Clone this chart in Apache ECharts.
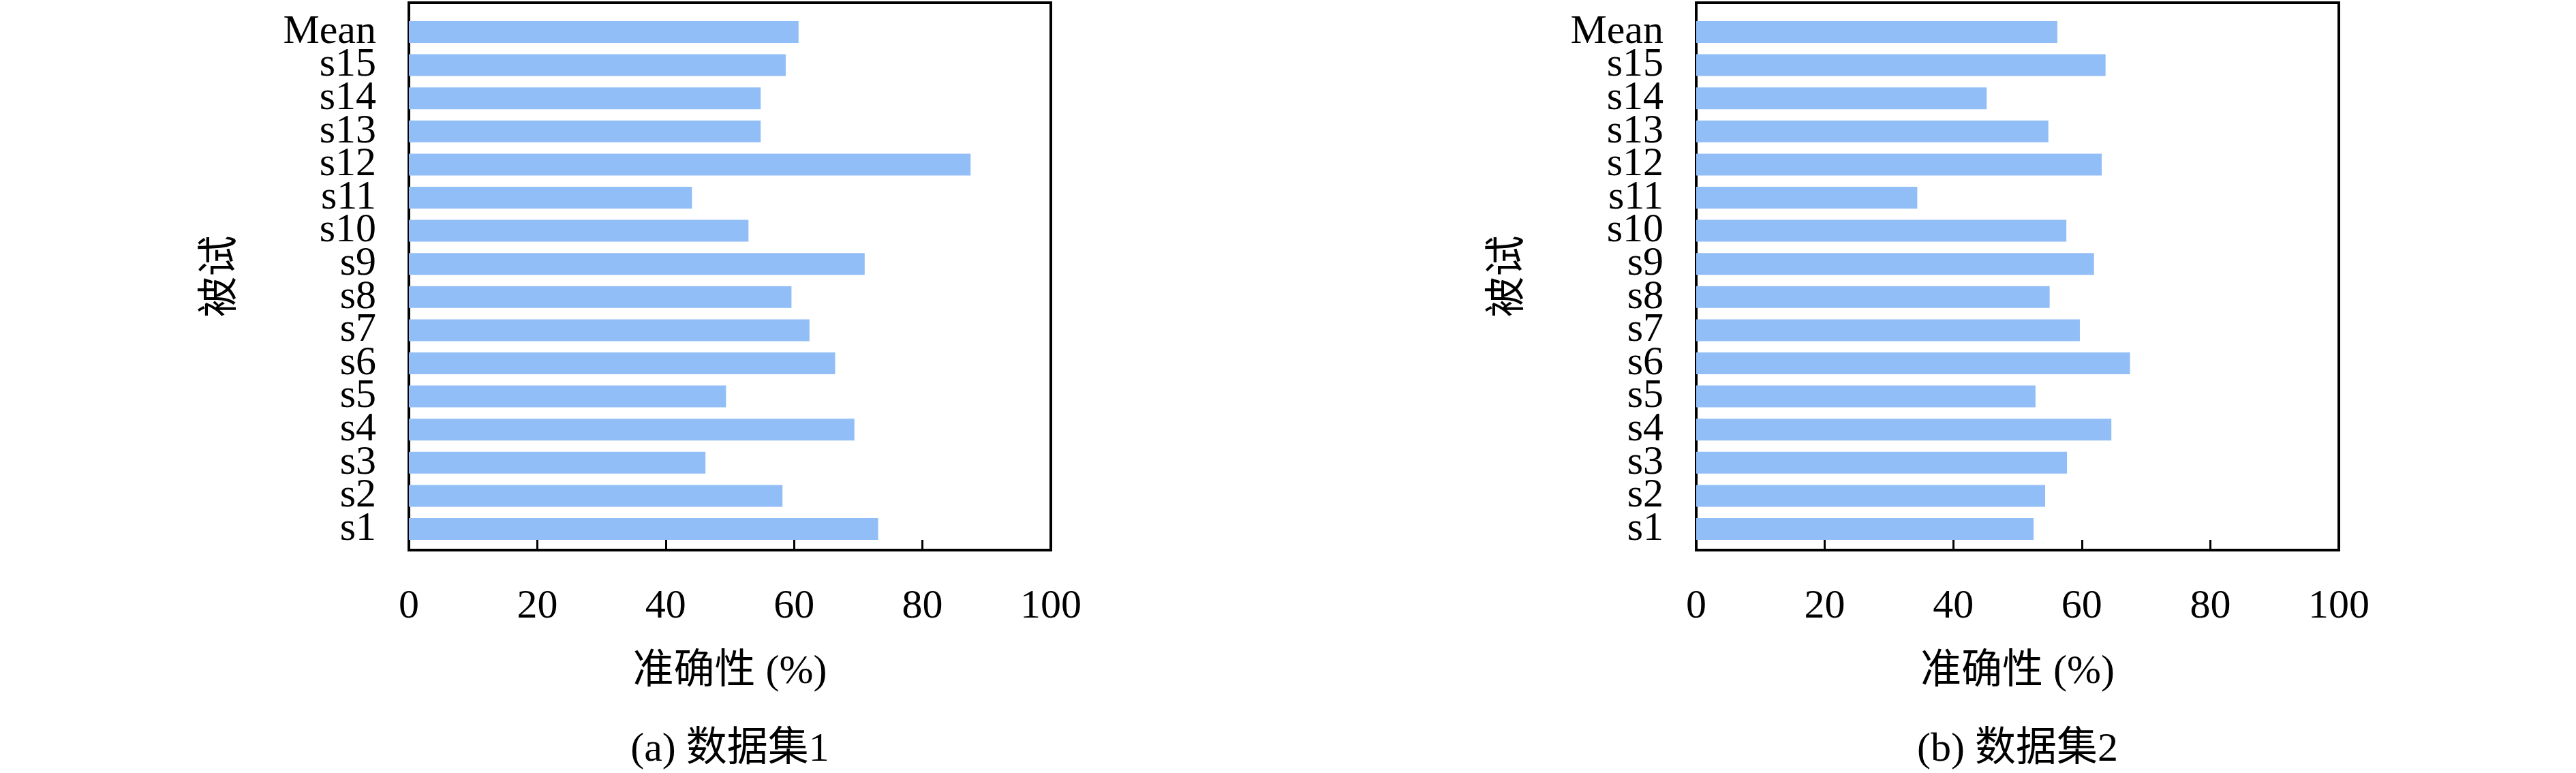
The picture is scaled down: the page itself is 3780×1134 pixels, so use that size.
<!DOCTYPE html>
<html>
<head>
<meta charset="utf-8">
<script src="https://cdn.jsdelivr.net/npm/echarts@6/dist/echarts.min.js"></script>
<style>
html,body{margin:0;padding:0;background:#fff;}
#chart{width:3780px;height:1134px;}
</style>
</head>
<body>
<div id="chart"></div>
<script>
// ---- data ----
const categories = ['s1','s2','s3','s4','s5','s6','s7','s8','s9','s10','s11','s12','s13','s14','s15','Mean'];
const dataset1 = [73.1, 58.2, 46.2, 69.4, 49.4, 66.4, 62.4, 59.6, 71.0, 52.9, 44.1, 87.5, 54.8, 54.8, 58.7, 60.7];
const dataset2 = [52.5, 54.3, 57.7, 64.6, 52.8, 67.5, 59.7, 55.0, 61.9, 57.6, 34.4, 63.1, 54.8, 45.2, 63.7, 56.2];
const xTicks = [0, 20, 40, 60, 80, 100];
const xTitle = '准确性 (%)';
const yTitle = '被试';
const captions = ['(a) 数据集1', '(b) 数据集2'];

// ---- layout / style ----
const FONT = "'Liberation Serif', 'Noto Sans CJK SC', serif";
const BAR_COLOR = '#92bef7';
const panels = [
  {left: 600, width: 942, data: dataset1, caption: captions[0]},
  {left: 2489, width: 943, data: dataset2, caption: captions[1]}
];
const frameTop = 4, frameH = 803;
const barTop = 22.7, barH = 777.6;

const chart = echarts.init(document.getElementById('chart'), null, {renderer: 'canvas'});

const grid = [], xAxis = [], yAxis = [], series = [], graphic = [];
panels.forEach((p, i) => {
  const gFrame = grid.length;
  grid.push({left: p.left, top: frameTop, width: p.width, height: frameH, show: true,
    borderColor: '#000', borderWidth: 4, backgroundColor: 'transparent', containLabel: false});
  const gBar = grid.length;
  grid.push({left: p.left, top: barTop, width: p.width, height: barH, show: false, containLabel: false});

  // frame axes
  xAxis.push({gridIndex: gFrame, type: 'value', min: xTicks[0], max: xTicks[xTicks.length - 1],
    interval: xTicks[1] - xTicks[0],
    axisLine: {show: false}, splitLine: {show: false},
    axisTick: {show: true, inside: true, length: 15, lineStyle: {color: '#000', width: 3}},
    axisLabel: {show: true, margin: 53, fontSize: 60, fontFamily: FONT, color: '#000',
      showMinLabel: true, showMaxLabel: true},
    name: xTitle, nameLocation: 'middle', nameGap: 149,
    nameTextStyle: {fontSize: 60, fontFamily: FONT, color: '#000'}
  });
  yAxis.push({gridIndex: gFrame, type: 'value', min: 0, max: 1,
    axisLine: {show: false}, axisTick: {show: false}, axisLabel: {show: false}, splitLine: {show: false},
    name: yTitle, nameLocation: 'middle', nameGap: 245,
    nameTextStyle: {fontSize: 60, fontFamily: FONT, color: '#000'}
  });

  // bar axes
  const xb = xAxis.length;
  xAxis.push({gridIndex: gBar, type: 'value', min: xTicks[0], max: xTicks[xTicks.length - 1],
    show: false});
  const yb = yAxis.length;
  yAxis.push({gridIndex: gBar, type: 'category', data: categories, boundaryGap: true,
    axisLine: {show: false}, splitLine: {show: false},
    axisTick: {show: true, inside: true, alignWithLabel: true, length: 14, lineStyle: {color: '#000', width: 3}},
    axisLabel: {show: true, margin: 48, fontSize: 60, fontFamily: FONT, color: '#000', interval: 0}
  });

  series.push({type: 'bar', xAxisIndex: xb, yAxisIndex: yb, data: p.data, barWidth: 32,
    itemStyle: {color: BAR_COLOR}, silent: true, animation: false});

  graphic.push({type: 'text', x: p.left + p.width / 2, y: 1100,
    style: {text: p.caption, font: '60px ' + FONT, fill: '#000', textAlign: 'center', textVerticalAlign: 'middle'}});
});

chart.setOption({
  backgroundColor: '#fff',
  animation: false,
  grid, xAxis, yAxis, series, graphic
});
</script>
</body>
</html>
